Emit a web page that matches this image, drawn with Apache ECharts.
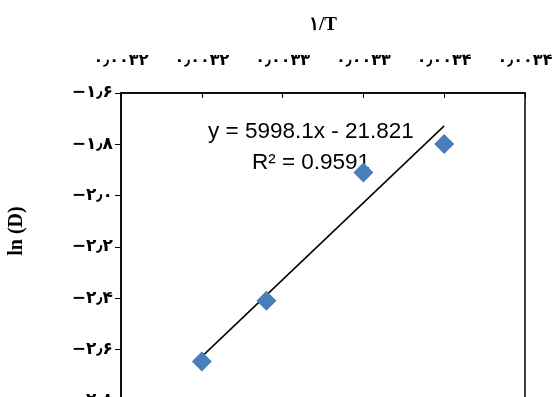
<!DOCTYPE html>
<html>
<head>
<meta charset="utf-8">
<script src="https://cdn.jsdelivr.net/npm/echarts@6/dist/echarts.min.js"></script>
<style>
  html, body { margin: 0; padding: 0; background: #fff; }
  #chart { width: 558px; height: 397px; }
</style>
</head>
<body>
<div id="chart"></div>
<script>
// measured points (1/T, ln D)
const invT = [0.0032, 0.00324, 0.0033, 0.00335]
const lnD = [-2.646, -2.409, -1.910, -1.799]

// trendline ends
const trendX = [0.0032, 0.00335]
const trendY = [-2.627, -1.728]

// tick labels as printed (Persian digits)
const xTickLabels = ['۰٫۰۰۳۲', '۰٫۰۰۳۲', '۰٫۰۰۳۳', '۰٫۰۰۳۳', '۰٫۰۰۳۴', '۰٫۰۰۳۴']
const yTickLabels = ['−۲٫۸', '−۲٫۶', '−۲٫۴', '−۲٫۲', '−۲٫۰', '−۱٫۸', '−۱٫۶']

const equationText = 'y = 5998.1x - 21.821'
const r2Text = 'R² = 0.9591'

const chart = echarts.init(document.getElementById('chart'))

const option = {
  backgroundColor: '#fff',
  animation: false,
  grid: {
    left: 121,
    top: 93,
    width: 404,
    height: 308,
    outerBoundsMode: 'none',
    containLabel: false,
    show: true,
    borderColor: '#000',
    borderWidth: 1.5
  },
  xAxis: {
    type: 'value',
    position: 'top',
    min: 0.00315,
    max: 0.0034,
    interval: 0.00005,
    name: '۱/T',
    nameLocation: 'middle',
    nameGap: 58,
    nameMoveOverlap: false,
    nameTextStyle: {
      fontFamily: 'Liberation Serif, DejaVu Serif',
      fontWeight: 'bold',
      fontSize: 19,
      color: '#000'
    },
    axisLine: { show: true, lineStyle: { color: '#000', width: 1.5 } },
    axisTick: { show: true, inside: true, length: 5, lineStyle: { color: '#000', width: 1 } },
    splitLine: { show: false },
    axisLabel: {
      margin: 24,
      color: '#000',
      fontFamily: 'DejaVu Sans',
      fontWeight: 'bold',
      fontSize: 16,
      showMinLabel: true,
      showMaxLabel: true,
      formatter: (v, i) => xTickLabels[i] || ''
    }
  },
  yAxis: {
    type: 'value',
    min: -2.8,
    max: -1.6,
    interval: 0.2,
    axisLine: { show: true, lineStyle: { color: '#000', width: 1.5 } },
    axisTick: { show: true, length: 6, lineStyle: { color: '#000', width: 1 } },
    splitLine: { show: false },
    axisLabel: {
      margin: 8,
      color: '#000',
      fontFamily: 'DejaVu Sans',
      fontWeight: 'bold',
      fontSize: 17,
      padding: [0, 0, 12, 0],
      formatter: (v, i) => yTickLabels[i] || ''
    }
  },
  graphic: [
    {
      type: 'text',
      x: 17,
      y: 231,
      rotation: Math.PI / 2,
      style: {
        text: 'ln (D)',
        font: 'bold 20px "Liberation Serif"',
        fill: '#000',
        align: 'center',
        verticalAlign: 'middle'
      }
    },
    {
      type: 'text',
      x: 311,
      y: 132,
      style: {
        text: equationText,
        font: '22.5px "Liberation Sans"',
        fill: '#000',
        align: 'center',
        verticalAlign: 'middle'
      }
    },
    {
      type: 'text',
      x: 311,
      y: 163,
      style: {
        text: r2Text,
        font: '22.5px "Liberation Sans"',
        fill: '#000',
        align: 'center',
        verticalAlign: 'middle'
      }
    }
  ],
  series: [
    {
      name: 'trend',
      type: 'line',
      data: trendX.map((x, i) => [x, trendY[i]]),
      showSymbol: false,
      symbol: 'none',
      lineStyle: { color: '#000', width: 1.5 },
      z: 2
    },
    {
      name: 'ln D',
      type: 'scatter',
      data: invT.map((x, i) => [x, lnD[i]]),
      symbol: 'diamond',
      symbolSize: 20,
      itemStyle: { color: '#4a7ebb', opacity: 1 },
      z: 3
    }
  ]
}

chart.setOption(option)
</script>
</body>
</html>
